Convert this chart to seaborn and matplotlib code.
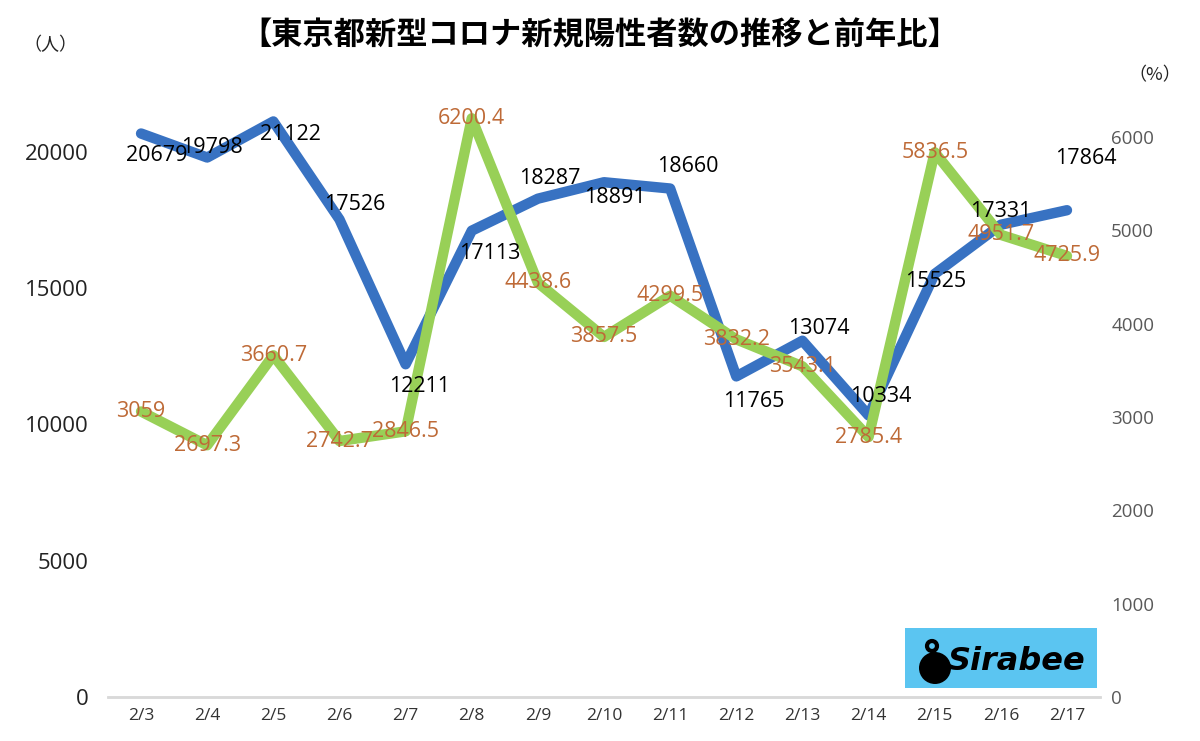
import numpy as np
import pandas as pd
import seaborn as sns
import matplotlib.pyplot as plt
from matplotlib.patches import Rectangle, Ellipse

# データ
dates = ["2/3", "2/4", "2/5", "2/6", "2/7", "2/8", "2/9", "2/10",
         "2/11", "2/12", "2/13", "2/14", "2/15", "2/16", "2/17"]
cases = [20679, 19798, 21122, 17526, 12211, 17113, 18287, 18891,
         18660, 11765, 13074, 10334, 15525, 17331, 17864]
ratio = [3059, 2697.3, 3660.7, 2742.7, 2846.5, 6200.4, 4438.6, 3857.5,
         4299.5, 3832.2, 3543.1, 2785.4, 5836.5, 4951.7, 4725.9]
ratio_labels = ["3059", "2697.3", "3660.7", "2742.7", "2846.5", "6200.4", "4438.6", "3857.5",
                "4299.5", "3832.2", "3543.1", "2785.4", "5836.5", "4951.7", "4725.9"]

# 青ラベルの位置ずれ(ピクセル)
case_offsets = [(16, -22), (5, 10), (17, -13), (15, 15), (14, -22), (18, -23), (12, 20),
                (11, -15), (18, 22), (17, -25), (16, 12), (12, 19), (1, -8), (0, 13), (19, 52)]

df = pd.DataFrame({"pos": np.arange(len(dates)), "cases": cases, "ratio": ratio})

sns.set_style("white")
plt.rcParams['font.family'] = ['Open Sans', 'Noto Sans CJK JP', 'DejaVu Sans']
JP = ['Noto Sans CJK JP', 'DejaVu Sans']

BLUE = "#3872C2"
GREEN = "#98D057"
ORANGE = "#BE6A37"

W, H = 1200, 741
fig = plt.figure(figsize=(12, 7.41), dpi=100)
ax = fig.add_axes([0.09, 0.0594, 0.8267, 0.8596])
ax2 = ax.twinx()

sns.lineplot(data=df, x="pos", y="cases", ax=ax, color=BLUE, linewidth=7.5,
             solid_capstyle='round', solid_joinstyle='round')
sns.lineplot(data=df, x="pos", y="ratio", ax=ax2, color=GREEN, linewidth=7.5,
             solid_capstyle='round', solid_joinstyle='round')

ax.set_xlim(-0.5, len(dates) - 0.5)
ax.set_ylim(0, 23376)
ax2.set_ylim(0, 6825)
ax.set_yticks([0, 5000, 10000, 15000, 20000])
ax2.set_yticks([0, 1000, 2000, 3000, 4000, 5000, 6000])
ax.set_xticks(df["pos"])
ax.set_xticklabels(dates, fontsize=12.5, color="#333333")
ax.set_xticks(np.arange(-0.5, len(dates), 1), minor=True)
ax.tick_params(axis='x', which='major', length=0, pad=8)
ax.tick_params(axis='x', which='minor', length=5, width=1.5, color="#D9D9D9")
ax.tick_params(axis='y', length=0, labelsize=16, labelcolor="#222222", pad=14)
ax2.tick_params(axis='y', length=0, labelsize=13.5, labelcolor="#595959", pad=8)
ax.set_xlabel("")
ax.set_ylabel("")
ax2.set_ylabel("")
for a in (ax, ax2):
    for s in ("top", "left", "right"):
        a.spines[s].set_visible(False)
    a.spines["bottom"].set_color("#D9D9D9")
    a.spines["bottom"].set_linewidth(1.8)
    a.grid(False)

# データラベル
for i, v in enumerate(cases):
    dx, dy = case_offsets[i]
    ax2.annotate(str(v), xy=(i, v), xycoords=ax.transData, xytext=(dx, dy),
                 textcoords='offset pixels', ha='center', va='center',
                 fontsize=15.5, color="black")
for i, v in enumerate(ratio):
    ax2.annotate(ratio_labels[i], xy=(i, v), xytext=(0, 0), textcoords='offset pixels',
                 ha='center', va='center', fontsize=15.5, color=ORANGE)

fig.text(0.5, 0.952, "【東京都新型コロナ新規陽性者数の推移と前年比】", ha='center', va='center',
         fontsize=22.5, fontweight='bold', color="black", family=JP)
fig.text(50 / W, 1 - 45 / H, "（人）", ha='center', va='center', fontsize=13, color="#222222", family=JP)
fig.text(1155 / W, 1 - 75 / H, "（%）", ha='center', va='center', fontsize=13, color="#222222", family=JP)

# ロゴ
fig.patches.append(Rectangle((905 / W, 1 - 688 / H), 192 / W, 60 / H,
                             transform=fig.transFigure, facecolor="#5BC5F1", edgecolor='none'))
fig.patches.append(Ellipse((935 / W, 1 - 668 / H), 32 / W, 32 / H, transform=fig.transFigure,
                           facecolor="black", edgecolor='none'))
fig.patches.append(Ellipse((932 / W, 1 - 646 / H), 10 / W, 10 / H, transform=fig.transFigure,
                           facecolor="none", edgecolor='black', linewidth=3))
fig.text(1016 / W, 1 - 661 / H, "Sirabee", ha='center', va='center', fontsize=23,
         fontweight='bold', fontstyle='italic', color="black", family=['DejaVu Sans'])

fig.savefig("out.png", dpi=100)
